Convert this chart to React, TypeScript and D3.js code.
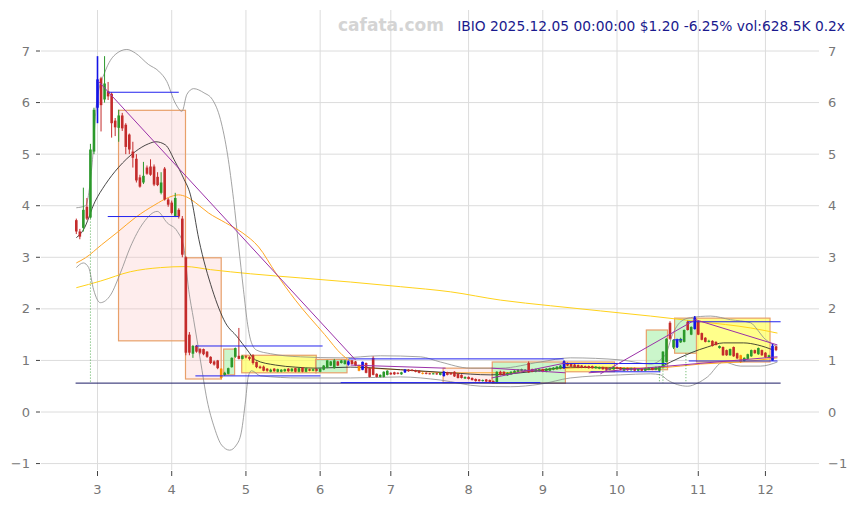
import React from 'react';
import * as d3 from 'd3';

const OPEN = [
  3.72,3.50,3.57,3.98,3.77,5.05,5.90,6.47,6.06,6.22,
  6.17,5.65,5.51,5.75,5.57,5.38,5.05,4.91,4.55,4.45,
  4.74,4.76,4.76,4.56,4.25,4.72,4.12,4.06,3.80,3.92,
  3.75,3.00,1.50,1.13,1.28,1.22,1.22,1.17,1.07,0.98,
  1.00,0.84,0.72,0.74,0.87,1.07,1.09,1.03,1.08,1.07,
  1.10,0.97,0.88,0.88,0.84,0.78,0.84,0.78,0.78,0.79,
  0.84,0.79,0.85,0.78,0.86,0.78,0.83,0.80,0.83,0.78,
  0.82,0.86,0.90,0.85,0.98,0.95,0.93,0.92,1.00,0.98,
  0.91,0.82,0.95,0.85,1.05,0.74,0.68,0.68,0.72,0.76,
  0.77,0.76,0.73,0.77,0.82,0.82,0.81,0.80,0.76,0.76,
  0.75,0.74,0.75,0.72,0.70,0.77,0.76,0.78,0.74,0.72,
  0.65,0.68,0.66,0.64,0.63,0.60,0.63,0.62,0.60,0.58,
  0.78,0.78,0.71,0.73,0.75,0.78,0.80,0.80,0.95,0.83,
  0.78,0.79,0.83,0.78,0.80,0.82,0.83,0.84,0.85,0.95,
  0.93,0.92,0.91,0.90,0.89,0.89,0.89,0.85,0.84,0.87,
  0.86,0.82,0.83,0.87,0.86,0.80,0.85,0.81,0.85,0.80,
  0.84,0.80,0.82,0.86,0.82,0.80,0.87,0.97,1.73,1.25,
  1.26,1.35,1.36,1.75,1.50,1.61,1.75,1.53,1.44,1.36,
  1.38,1.36,1.24,1.26,1.20,1.10,1.26,1.14,1.10,0.99,
  1.03,1.08,1.20,1.12,1.20,1.15,1.06,1.00,1.27,
];
const HIGH = [
  3.75,3.55,4.35,4.15,5.20,5.90,6.90,6.50,6.90,6.40,
  6.20,5.70,5.86,5.80,5.60,5.40,5.24,5.00,4.60,4.85,
  4.78,4.90,4.80,4.65,4.65,4.75,4.15,4.10,4.25,3.95,
  3.80,3.02,1.55,1.30,1.30,1.24,1.23,1.18,1.08,1.00,
  1.01,0.85,0.78,0.86,1.06,1.25,1.63,1.10,1.10,1.08,
  1.12,0.98,0.90,0.90,0.85,0.84,0.85,0.84,0.83,0.84,
  0.85,0.85,0.86,0.86,0.87,0.86,0.84,0.84,0.84,0.85,
  0.91,1.01,0.99,1.03,0.99,1.01,1.01,1.00,1.01,0.99,
  0.92,0.98,0.96,0.86,1.08,0.75,0.73,0.79,0.81,0.77,
  0.78,0.77,0.78,0.83,0.83,0.83,0.82,0.81,0.77,0.77,
  0.76,0.76,0.76,0.77,0.79,0.78,0.77,0.79,0.75,0.73,
  0.69,0.69,0.67,0.65,0.64,0.63,0.64,0.63,0.61,0.79,
  0.80,0.79,0.77,0.79,0.81,0.83,0.84,0.83,0.98,0.84,
  0.84,0.84,0.84,0.85,0.86,0.87,0.89,0.91,1.00,0.96,
  0.94,0.93,0.92,0.91,0.90,0.90,0.90,0.89,0.88,0.88,
  0.87,0.87,0.88,0.88,0.87,0.86,0.86,0.86,0.86,0.85,
  0.85,0.86,0.87,0.87,0.88,0.89,1.18,1.43,1.76,1.41,
  1.42,1.44,1.60,1.77,1.66,1.86,1.78,1.54,1.45,1.40,
  1.39,1.37,1.29,1.27,1.21,1.23,1.27,1.15,1.11,1.06,
  1.13,1.21,1.21,1.25,1.21,1.16,1.11,1.32,1.29,
];
const LOW = [
  3.45,3.35,3.50,3.72,3.75,5.00,5.60,5.44,6.00,6.05,
  5.32,5.35,5.24,5.45,5.00,5.00,4.74,4.45,4.35,4.42,
  4.60,4.58,4.38,4.38,4.22,4.10,3.98,3.83,3.78,3.75,
  3.00,1.10,1.10,1.05,1.15,1.12,1.10,1.05,0.93,0.90,
  0.83,0.63,0.70,0.73,0.86,1.05,1.02,1.02,1.04,1.00,
  0.92,0.85,0.84,0.79,0.78,0.77,0.78,0.77,0.77,0.78,
  0.78,0.78,0.77,0.77,0.77,0.77,0.79,0.79,0.79,0.77,
  0.81,0.85,0.89,0.84,0.89,0.94,0.92,0.90,0.92,0.89,
  0.79,0.81,0.75,0.67,0.71,0.67,0.67,0.67,0.71,0.72,
  0.72,0.73,0.72,0.76,0.78,0.79,0.77,0.75,0.73,0.73,
  0.73,0.73,0.72,0.71,0.69,0.71,0.72,0.68,0.65,0.65,
  0.64,0.63,0.61,0.59,0.59,0.59,0.58,0.57,0.56,0.56,
  0.71,0.71,0.70,0.72,0.74,0.77,0.79,0.79,0.76,0.77,
  0.77,0.78,0.77,0.77,0.79,0.81,0.82,0.83,0.84,0.89,
  0.87,0.86,0.85,0.85,0.85,0.84,0.84,0.84,0.83,0.82,
  0.81,0.81,0.82,0.83,0.81,0.79,0.80,0.80,0.79,0.79,
  0.79,0.79,0.81,0.81,0.81,0.79,0.86,0.96,1.40,1.22,
  1.24,1.34,1.35,1.58,1.49,1.60,1.49,1.39,1.35,1.35,
  1.27,1.29,1.23,1.09,1.09,1.09,1.07,1.03,0.95,0.98,
  1.02,1.07,1.13,1.11,1.09,1.05,1.05,0.99,1.18,
];
const CLOSE = [
  3.50,3.40,3.92,3.75,5.09,5.86,6.45,5.95,6.37,6.12,
  5.60,5.52,5.75,5.50,5.14,5.09,4.93,4.49,4.37,4.58,
  4.62,4.60,4.41,4.40,4.45,4.12,4.02,3.86,4.15,3.79,
  3.05,1.15,1.15,1.28,1.17,1.15,1.12,1.07,0.95,0.92,
  0.85,0.66,0.76,0.85,1.05,1.24,1.03,1.09,1.06,1.03,
  0.95,0.87,0.85,0.80,0.80,0.82,0.79,0.83,0.82,0.83,
  0.79,0.84,0.78,0.85,0.78,0.85,0.80,0.83,0.80,0.84,
  0.90,1.00,0.98,1.00,0.90,1.00,1.00,0.98,0.93,0.90,
  0.80,0.97,0.76,0.68,0.72,0.68,0.72,0.78,0.80,0.73,
  0.73,0.74,0.77,0.82,0.79,0.80,0.78,0.76,0.74,0.74,
  0.74,0.75,0.73,0.76,0.78,0.72,0.73,0.69,0.66,0.66,
  0.68,0.64,0.62,0.60,0.60,0.62,0.59,0.58,0.57,0.78,
  0.72,0.72,0.76,0.78,0.80,0.82,0.83,0.82,0.77,0.78,
  0.83,0.83,0.78,0.84,0.85,0.86,0.88,0.90,0.98,0.90,
  0.88,0.87,0.86,0.86,0.86,0.85,0.85,0.88,0.87,0.83,
  0.82,0.86,0.87,0.84,0.82,0.85,0.81,0.85,0.80,0.84,
  0.80,0.85,0.86,0.82,0.87,0.88,1.17,1.42,1.42,1.40,
  1.40,1.42,1.59,1.59,1.65,1.83,1.50,1.40,1.36,1.38,
  1.28,1.30,1.28,1.10,1.10,1.22,1.08,1.04,0.97,1.05,
  1.12,1.20,1.14,1.24,1.10,1.06,1.10,1.28,1.20,
];
const BLUE_IDX = [6, 77, 81, 93, 104, 138, 170, 175, 197];
const ORANGE_IDX = [41, 80, 98, 188];

const X_TICK_IDX = [6, 27, 48, 69, 89, 111, 132, 153, 176, 195];
const X_TICK_LABELS = ['3', '4', '5', '6', '7', '8', '9', '10', '11', '12'];
const Y_TICKS = [-1, 0, 1, 2, 3, 4, 5, 6, 7];

// [index, value] samples
const MA_BLACK: [number, number][] = [
  [0,3.38],[2,3.53],[5.3,4.08],[8.2,4.41],[11.9,4.74],[16.7,5.05],[20.4,5.2],[22.5,5.24],
  [25.2,5.18],[28,4.85],[30.3,4.54],[32.3,4.21],[34.7,3.34],[38.5,2.37],[42.2,1.73],
  [45.5,1.46],[48.4,1.2],[50.7,1.01],[56.4,0.91],[62,0.87],[67.7,0.85],[77.6,0.87],
  [91.7,0.82],[105.9,0.76],[117.2,0.72],[128.5,0.78],[139.8,0.87],[151.2,0.85],
  [162.5,0.83],[164.5,0.85],[168.2,0.97],[174,1.15],[178.6,1.26],[183.1,1.34],
  [188.8,1.34],[192.8,1.3],[197.3,1.2],
];
const BAND_UPPER: [number, number][] = [
  [0,3.96],[2.6,4.0],[4.5,4.83],[5.8,6.03],[8.2,6.61],[11,6.93],[14.3,7.03],[16.7,6.96],
  [20.4,6.74],[23.3,6.61],[25.6,6.41],[28,5.99],[29.9,5.83],[31.3,6.16],[33.2,6.27],
  [36.1,6.19],[38.5,6.06],[40.8,5.67],[42.8,4.99],[44.5,4.12],[45.9,3.24],[47.3,2.37],
  [48.5,1.69],[49.3,1.4],[51,1.2],[55,1.13],[63.4,1.07],[74.8,1.05],[86.1,1.09],
  [97.4,1.07],[103,0.97],[111.5,0.85],[120,0.85],[131.3,0.97],[139.8,1.05],[154,1.01],
  [162.5,0.93],[166.7,1.11],[168.7,1.5],[171,1.75],[173.8,1.83],[179.5,1.86],
  [185.1,1.79],[190.8,1.73],[192.8,1.59],[194.5,1.44],[196.4,1.34],[198.4,1.26],
];
const BAND_LOWER: [number, number][] = [
  [0,2.8],[2,2.89],[3.5,2.8],[4.9,2.37],[6.8,2.12],[9.7,2.27],[12.5,2.7],[15.3,3.2],
  [19,3.67],[22.9,3.89],[25.7,3.67],[28.6,3.5],[30.4,3.2],[31.8,2.37],[33.2,1.79],
  [35.1,1.01],[37,0.23],[39.1,-0.31],[41.1,-0.64],[43.4,-0.74],[45.3,-0.64],[46.7,-0.39],
  [47.9,0.23],[48.7,0.7],[49.6,0.8],[52.1,0.7],[63.4,0.66],[77.6,0.66],[91.7,0.68],
  [103,0.62],[114.4,0.5],[122.9,0.49],[131.3,0.54],[139.8,0.66],[154,0.72],[162.5,0.74],
  [165.3,0.72],[167.3,0.62],[173,0.5],[175.8,0.56],[178.6,0.68],[183.1,0.97],
  [187.9,0.89],[193.6,0.89],[198.4,0.97],
];
const EMA_ORANGE: [number, number][] = [
  [0,2.89],[2.6,2.99],[7.1,3.24],[11.9,3.5],[16.7,3.77],[22.3,4.02],[26.1,4.16],
  [28.9,4.21],[31.2,4.17],[33.7,4.06],[37.4,3.86],[42.2,3.67],[46.9,3.48],[51.6,3.2],
  [56.4,2.7],[62,2.17],[70.3,1.5],[75.2,1.11],[78.5,0.95],[80.4,0.87],[91.7,0.82],
  [105.9,0.76],[120,0.76],[134.2,0.83],[148.3,0.87],[162.5,0.85],[170.9,0.89],
  [176.6,0.93],[187.9,0.97],[198.4,1.05],
];
const MA_YELLOW: [number, number][] = [
  [0,2.41],[6.9,2.54],[15.3,2.72],[23.8,2.8],[30.9,2.82],[38,2.76],[49.3,2.68],
  [63.4,2.6],[77.6,2.52],[91.7,2.43],[105.9,2.33],[120,2.17],[134.2,2.06],[148.3,1.96],
  [162.5,1.86],[176.6,1.75],[190.8,1.63],[198.4,1.53],
];
// [i0, v0, i1, v1]
const PURPLE_SEGS: [number, number, number, number][] = [
  [6.3, 6.41, 79, 1.01],
  [77.6, 0.91, 104.5, 0.85],
  [117.5, 0.66, 138.4, 0.95],
  [117.5, 0.85, 138.4, 0.76],
  [148.3, 0.74, 175.2, 1.79],
  [175.2, 1.79, 198.4, 1.3],
  [145, 0.76, 198.4, 1.07],
];
// [value, i0, i1]
const BLUE_LEVELS: [number, number, number][] = [
  [6.2, 8.9, 29], [3.79, 8.9, 29], [1.28, 33.7, 69.7], [0.7, 33.7, 69.1],
  [1.03, 77, 137.9], [0.57, 74.8, 131.3], [0.94, 138, 167], [0.78, 145.5, 165.3],
  [1.75, 173, 199.3], [0.99, 173.3, 198.4], [1.4, 169, 171.5],
];
const BASE_LEVEL: [number, number, number] = [0.56, -0.2, 199.3];
// [i0, i1, top, bottom, kind]
const ZONES: [number, number, number, number, string][] = [
  [11.95, 30.9, 5.85, 1.38, 'bear'],
  [30.9, 41, 2.99, 0.64, 'bear'],
  [41.7, 44.8, 1.22, 0.72, 'bull'],
  [46.8, 67.9, 1.1, 0.76, 'flat'],
  [67.7, 76.6, 1.02, 0.76, 'bull'],
  [103.8, 117.7, 0.85, 0.57, 'bear'],
  [117.7, 138.4, 0.97, 0.56, 'bull'],
  [138.4, 152.3, 0.97, 0.78, 'flat'],
  [161.3, 167.3, 1.59, 0.82, 'bull'],
  [169.3, 175.5, 1.82, 1.14, 'bull'],
  [175.5, 196.3, 1.82, 0.97, 'flat'],
];
// [index, top value, bottom value]
const GREEN_DOTS: [number, number, number][] = [
  [4, 3.75, 0.56], [165, 0.79, 0.56], [166, 0.86, 0.56], [172.5, 1.14, 0.56],
];

const ZONE_FILL: Record<string, string> = {
  bear: 'rgba(250,190,190,0.28)',
  bull: 'rgba(140,235,140,0.45)',
  flat: 'rgba(255,255,90,0.7)',
};

export default function App() {
  const W = 855, H = 505;
  const x = d3.scaleLinear().domain([0, 198]).range([76.3, 76.3 + 198 * 3.534]);
  const y = d3.scaleLinear().domain([0, 7]).range([412, 51]);
  const plotL = 41, plotR = 819, plotT = 10, plotB = 470;
  const font = 'DejaVu Sans, sans-serif';
  const line = d3.line<[number, number]>().x(d => x(d[0])).y(d => y(d[1])).curve(d3.curveMonotoneX);
  const bw = 2.6;

  const candles = OPEN.map((o, i) => {
    const c = CLOSE[i];
    let col = c >= o ? '#2b992b' : '#c42b2b';
    if (BLUE_IDX.includes(i)) col = '#1414e6';
    if (ORANGE_IDX.includes(i)) col = '#ff8c00';
    return { i, o, c, h: HIGH[i], l: LOW[i], col };
  });

  const fmt = (t: number) => (t < 0 ? '\u2212' + Math.abs(t) : String(t));

  return (
    <svg width={W} height={H} style={{ position: 'absolute', left: 0, top: 0, background: '#fff' }}>
      {Y_TICKS.map(t => (
        <line key={'gy' + t} x1={plotL} x2={plotR} y1={y(t)} y2={y(t)} stroke="#dcdcdc" strokeWidth={1} />
      ))}
      {X_TICK_IDX.map((t, k) => (
        <line key={'gx' + k} x1={x(t)} x2={x(t)} y1={plotT} y2={plotB} stroke="#dcdcdc" strokeWidth={1} />
      ))}
      {ZONES.map((z, k) => (
        <rect key={'z' + k} x={x(z[0])} y={y(z[2])} width={x(z[1]) - x(z[0])} height={y(z[3]) - y(z[2])}
          fill={ZONE_FILL[z[4]]} stroke="#e8a06a" strokeWidth={1.2} />
      ))}
      <path d={line(MA_YELLOW) || ''} fill="none" stroke="#ffd21a" strokeWidth={1} />
      <path d={line(BAND_UPPER) || ''} fill="none" stroke="#8c8c8c" strokeWidth={0.8} />
      <path d={line(BAND_LOWER) || ''} fill="none" stroke="#8c8c8c" strokeWidth={0.8} />
      <path d={line(EMA_ORANGE) || ''} fill="none" stroke="#ffa726" strokeWidth={1} />
      <path d={line(MA_BLACK) || ''} fill="none" stroke="#1a1a1a" strokeWidth={0.8} />
      {GREEN_DOTS.map((g, k) => (
        <line key={'gd' + k} x1={x(g[0])} x2={x(g[0])} y1={y(g[1])} y2={y(g[2])} stroke="#2b992b" strokeWidth={0.8} strokeDasharray="1,2" />
      ))}
      {candles.map(d => (
        <g key={'c' + d.i}>
          <line x1={x(d.i)} x2={x(d.i)} y1={y(d.h)} y2={y(d.l)} stroke={d.col} strokeWidth={d.col === '#1414e6' ? 1.6 : 1} />
          <rect x={x(d.i) - bw / 2} y={y(Math.max(d.o, d.c))} width={bw}
            height={Math.max(1, Math.abs(y(d.o) - y(d.c)))} fill={d.col} />
        </g>
      ))}
      <line x1={x(BASE_LEVEL[1])} x2={x(BASE_LEVEL[2])} y1={y(BASE_LEVEL[0])} y2={y(BASE_LEVEL[0])} stroke="#1c1c66" strokeWidth={1} />
      {BLUE_LEVELS.map((b, k) => (
        <line key={'b' + k} x1={x(b[1])} x2={x(b[2])} y1={y(b[0])} y2={y(b[0])} stroke="#2323ee" strokeWidth={1} />
      ))}
      {PURPLE_SEGS.map((p, k) => (
        <line key={'p' + k} x1={x(p[0])} y1={y(p[1])} x2={x(p[2])} y2={y(p[3])} stroke="#9b30a8" strokeWidth={1} />
      ))}
      {Y_TICKS.map(t => (
        <g key={'yl' + t}>
          <line x1={36} x2={40} y1={y(t)} y2={y(t)} stroke="#444" strokeWidth={1} />
          <text x={30} y={y(t) + 4.5} textAnchor="end" fontFamily={font} fontSize={13} fill="#777">{fmt(t)}</text>
          <text x={828} y={y(t) + 4.5} textAnchor="start" fontFamily={font} fontSize={13} fill="#777">{fmt(t)}</text>
        </g>
      ))}
      {X_TICK_IDX.map((t, k) => (
        <g key={'xl' + k}>
          <line x1={x(t)} x2={x(t)} y1={471} y2={476} stroke="#444" strokeWidth={1} />
          <text x={x(t)} y={494} textAnchor="middle" fontFamily={font} fontSize={13} fill="#777">{X_TICK_LABELS[k]}</text>
        </g>
      ))}
      <text x={391} y={31} textAnchor="middle" fontFamily={font} fontSize={17} fontWeight="bold" fill="#d4d4d4">cafata.com</text>
      <text x={845} y={31} textAnchor="end" fontFamily={font} fontSize={13.8} fill="#1a1a8e">IBIO 2025.12.05 00:00:00 $1.20 -6.25% vol:628.5K 0.2x</text>
    </svg>
  );
}
